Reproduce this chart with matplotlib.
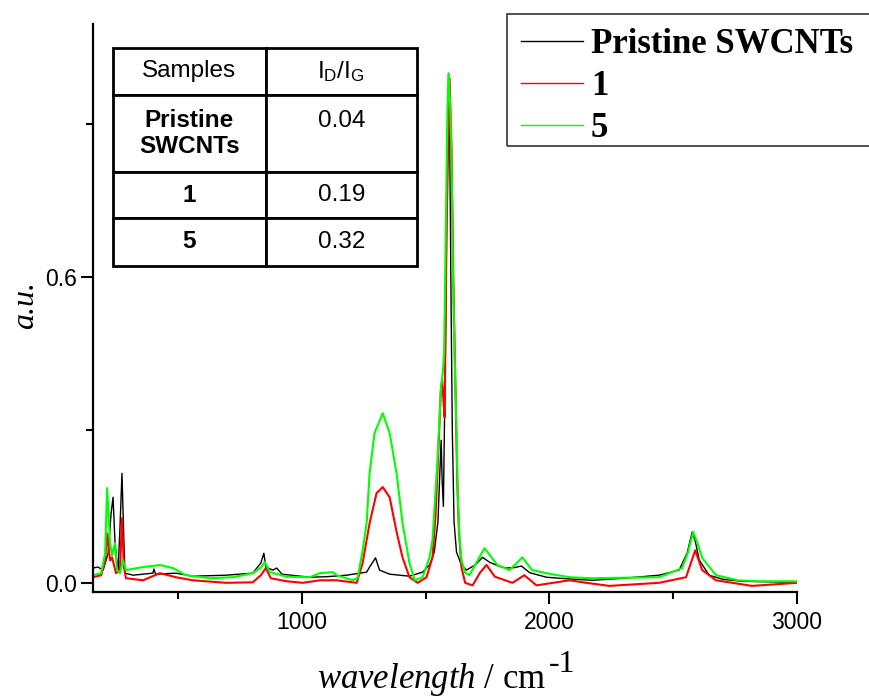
import matplotlib
matplotlib.use('Agg')
from matplotlib import pyplot as plt
from matplotlib.patches import Rectangle
from matplotlib.ticker import FixedLocator

# Raman spectra
black_x = [157, 177, 198, 218, 230, 238, 246, 258, 266, 274, 282, 286, 319, 399, 403, 410,
           492, 560, 694, 802, 835, 847, 855, 883, 899, 920, 1032, 1100, 1181, 1262, 1274,
           1298, 1314, 1355, 1435, 1488, 1516, 1535, 1550, 1558, 1563, 1567, 1572, 1580,
           1587, 1593, 1598, 1603, 1608, 1615, 1625, 1645, 1665, 1700, 1730, 1760, 1800,
           1827, 1860, 1887, 1920, 1988, 2040, 2173, 2300, 2443, 2524, 2556, 2577, 2590,
           2605, 2645, 2700, 2778, 3000]
black_y = [0.029, 0.031, 0.025, 0.058, 0.136, 0.168, 0.078, 0.021, 0.109, 0.215, 0.078, 0.019,
           0.015, 0.019, 0.027, 0.017, 0.019, 0.013, 0.015, 0.019, 0.039, 0.058, 0.031, 0.025,
           0.029, 0.017, 0.011, 0.012, 0.015, 0.021, 0.031, 0.049, 0.025, 0.017, 0.013, 0.021,
           0.035, 0.06, 0.12, 0.22, 0.28, 0.2, 0.15, 0.45, 0.8, 1.0, 0.85, 0.55, 0.3, 0.12,
           0.06, 0.035, 0.025, 0.035, 0.05, 0.04, 0.032, 0.029, 0.03, 0.033, 0.02, 0.011,
           0.009, 0.005, 0.009, 0.015, 0.025, 0.058, 0.1, 0.08, 0.045, 0.015, 0.007, 0.003,
           0.001]

red_x = [157, 190, 206, 214, 226, 234, 250, 266, 274, 282, 290, 359, 427, 492, 560, 694,
         802, 835, 855, 875, 940, 1004, 1073, 1141, 1222, 1246, 1274, 1302, 1327, 1355,
         1383, 1407, 1435, 1468, 1504, 1528, 1540, 1550, 1562, 1567, 1572, 1577, 1585,
         1597, 1605, 1612, 1620, 1628, 1635, 1645, 1660, 1690, 1720, 1746, 1780, 1851,
         1899, 1948, 2081, 2150, 2242, 2443, 2552, 2589, 2617, 2673, 2818, 3000]
red_y = [0.011, 0.015, 0.044, 0.097, 0.044, 0.05, 0.019, 0.025, 0.127, 0.031, 0.009, 0.005,
         0.019, 0.011, 0.005, 0.0, 0.001, 0.015, 0.029, 0.009, 0.003, 0.0, 0.005, 0.005,
         0.0, 0.039, 0.117, 0.176, 0.188, 0.168, 0.1, 0.05, 0.011, 0.0, 0.011, 0.05, 0.13,
         0.24, 0.38, 0.40, 0.36, 0.325, 0.7, 0.99, 0.85, 0.6, 0.4, 0.2, 0.1, 0.03, 0.0,
         -0.005, 0.02, 0.035, 0.012, 0.0, 0.015, -0.005, 0.005, 0.0, -0.006, 0.0, 0.011,
         0.064, 0.025, 0.005, -0.006, 0.0]

green_x = [157, 190, 206, 214, 226, 234, 246, 254, 266, 278, 290, 359, 427, 480, 532, 629,
           722, 802, 835, 851, 871, 940, 1032, 1073, 1125, 1141, 1206, 1226, 1246, 1262,
           1274, 1294, 1327, 1355, 1383, 1407, 1435, 1456, 1488, 1516, 1528, 1548, 1562,
           1569, 1575, 1582, 1588, 1593, 1600, 1605, 1610, 1617, 1625, 1630, 1637, 1645,
           1660, 1677, 1738, 1790, 1839, 1891, 1930, 1988, 2081, 2173, 2300, 2443, 2536,
           2560, 2581, 2600, 2617, 2673, 2760, 2847, 3000]
green_y = [0.015, 0.019, 0.058, 0.186, 0.078, 0.054, 0.078, 0.025, 0.019, 0.044, 0.025, 0.031,
           0.035, 0.029, 0.015, 0.009, 0.011, 0.019, 0.03, 0.041, 0.021, 0.012, 0.011, 0.019,
           0.021, 0.015, 0.005, 0.01, 0.064, 0.117, 0.215, 0.294, 0.333, 0.294, 0.215, 0.117,
           0.039, 0.005, 0.011, 0.05, 0.084, 0.24, 0.38, 0.41, 0.45, 0.7, 0.92, 1.0, 0.93,
           0.83, 0.62, 0.45, 0.3, 0.17, 0.09, 0.045, 0.02, 0.015, 0.068, 0.035, 0.025, 0.05,
           0.025, 0.019, 0.011, 0.009, 0.01, 0.011, 0.029, 0.06, 0.1, 0.075, 0.049, 0.015,
           0.005, 0.003, 0.003]

series_labels = ['Pristine SWCNTs', '1', '5']

# inset table
table_rows = [['Samples', r'$\mathregular{I_D/I_G}$'],
              ['Pristine\nSWCNTs', '0.04\n '],
              ['1', '0.19'],
              ['5', '0.32']]

plt.rcParams['font.family'] = ['Liberation Sans', 'DejaVu Sans']
plt.rcParams['mathtext.fontset'] = 'custom'
plt.rcParams['mathtext.it'] = 'Liberation Serif:italic'
plt.rcParams['mathtext.rm'] = 'Liberation Serif'

fig = plt.figure(figsize=(8.69, 6.98), dpi=100)
ax = fig.add_axes([93 / 869, 1 - 592 / 698, 704 / 869, 568 / 698])

ax.plot(black_x, black_y, color='black', lw=1.0, label=series_labels[0])
ax.plot(red_x, red_y, color='#ff0000', lw=1.5, label=series_labels[1])
ax.plot(green_x, green_y, color='#00ff00', lw=1.5, label=series_labels[2])

ax.set_xlim(157, 3000)
ax.set_ylim(-0.018, 1.097)

for side in ['top', 'right']:
    ax.spines[side].set_visible(False)
for side in ['left', 'bottom']:
    ax.spines[side].set_linewidth(1.6)

ax.xaxis.set_major_locator(FixedLocator([1000, 2000, 3000]))
ax.xaxis.set_minor_locator(FixedLocator([500, 1500, 2500]))
ax.yaxis.set_major_locator(FixedLocator([0.0, 0.6]))
ax.yaxis.set_minor_locator(FixedLocator([0.3, 0.9]))
ax.yaxis.set_major_formatter('{x:.1f}')
ax.xaxis.set_major_formatter('{x:.0f}')
ax.tick_params(which='major', direction='out', length=8.6, width=1.5, labelsize=16.5)
ax.tick_params(which='minor', direction='out', length=5, width=1.5)
ax.tick_params(axis='x', which='major', pad=5)
ax.tick_params(axis='y', which='major', pad=3)

ax.set_ylabel('a.u.', fontsize=23, family='Liberation Serif', style='italic')
ax.yaxis.set_label_coords(-0.075, 0.505)

xl = ax.set_xlabel(r'$\mathit{wavelength}$ / cm', fontsize=25, family='Liberation Serif')
xl.set_verticalalignment('baseline')
ax.xaxis.set_label_coords(0.4815, -0.169)
ax.annotate('-1', xy=(1.0, -0.141), xycoords=(xl, 'axes fraction'),
            xytext=(1.5, 0), textcoords='offset points',
            ha='left', va='baseline', fontsize=23, family='Liberation Serif',
            annotation_clip=False)

# table
tab = ax.table(cellText=table_rows, cellLoc='center',
               bbox=[20 / 704, (592 - 266) / 568, 304 / 704, 218 / 568])
tab.auto_set_font_size(False)
tab.set_fontsize(17.5)
row_h = [47, 77, 46, 48]
for (r, c), cell in tab.get_celld().items():
    cell.set_height(row_h[r])
    cell.set_width(152 if c == 0 else 151)
    cell.set_linewidth(2.0)
    cell.set_edgecolor('black')
    if c == 0 and r > 0:
        cell.get_text().set_fontweight('bold')

# legend: box drawn separately so it can run off the right edge like the original
leg = ax.legend(loc='upper left', bbox_to_anchor=(507 / 869, 1 - 146 / 698, (890 - 507) / 869, 132 / 698),
                bbox_transform=fig.transFigure, mode='expand', borderaxespad=0,
                prop={'family': 'Liberation Serif', 'weight': 'bold', 'size': 25},
                frameon=False, handlelength=1.8, handletextpad=0.22,
                labelspacing=0.26, borderpad=0.4)
for line in leg.get_lines():
    line.set_linewidth(1.0)
fig.patches.append(Rectangle((507 / 869, 1 - 146 / 698), (890 - 507) / 869, 132 / 698,
                             transform=fig.transFigure, fill=False,
                             edgecolor='#333333', linewidth=1.2))

fig.savefig('out.png', dpi=100)
